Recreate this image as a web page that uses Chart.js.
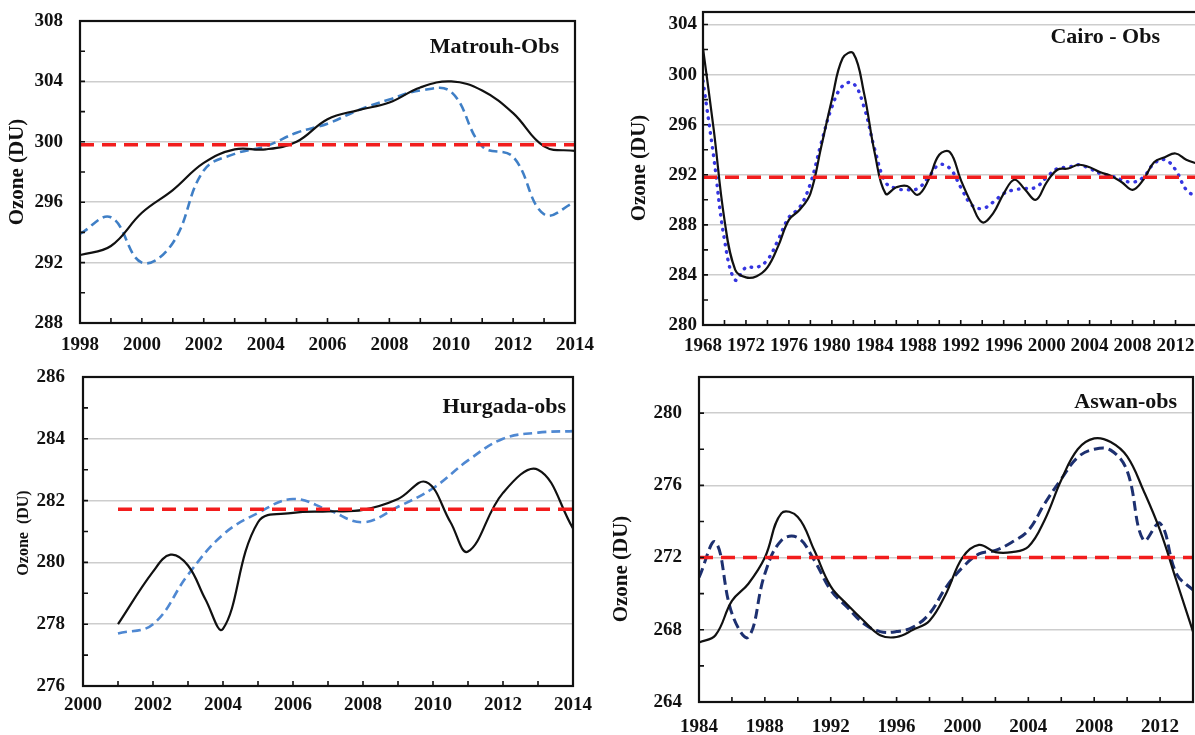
<!DOCTYPE html>
<html>
<head>
<meta charset="utf-8">
<script src="https://cdn.jsdelivr.net/npm/chart.js@4.4.0/dist/chart.umd.min.js"></script>
<style>
  html, body { margin: 0; padding: 0; background: #fff; overflow: hidden; width: 1195px; height: 735px; }
  canvas { position: absolute; }
</style>
</head>
<body>
<canvas id="matrouh" width="600" height="360" style="left:0;top:0"></canvas>
<canvas id="cairo" width="610" height="360" style="left:600px;top:0"></canvas>
<canvas id="hurgada" width="600" height="375" style="left:0;top:360px"></canvas>
<canvas id="aswan" width="595" height="375" style="left:600px;top:360px"></canvas>
<script>
// Matrouh 1998-2014
const matrouhYears = [1998, 1999, 2000, 2001, 2002, 2003, 2004, 2005, 2006, 2007, 2008, 2009, 2010, 2011, 2012, 2013, 2014];
const matrouhSolid = [292.5, 293.1, 295.3, 296.8, 298.6, 299.5, 299.5, 300.0, 301.5, 302.1, 302.6, 303.6, 304.0, 303.4, 301.9, 299.7, 299.4];
const matrouhDashed = [293.9, 295.0, 292.0, 293.3, 298.1, 299.2, 299.7, 300.6, 301.2, 302.1, 302.8, 303.4, 303.3, 299.7, 299.0, 295.2, 296.0];
const matrouhMean = 299.8;

// Cairo 1968-2014
const cairoYears = [1968, 1969, 1970, 1971, 1972, 1973, 1974, 1975, 1976, 1977, 1978, 1979, 1980, 1981, 1982, 1983,
  1984, 1985, 1986, 1987, 1988, 1989, 1990, 1991, 1992, 1993, 1994, 1995, 1996, 1997, 1998, 1999,
  2000, 2001, 2002, 2003, 2004, 2005, 2006, 2007, 2008, 2009, 2010, 2011, 2012, 2013, 2014];
const cairoSolid = [302.1, 295.6, 288.4, 284.4, 283.8, 283.9, 284.6, 286.3, 288.4, 289.2, 290.5, 294.2, 298.0, 301.3, 301.7, 298.5,
  293.7, 290.5, 291.0, 291.1, 290.4, 291.6, 293.6, 293.8, 291.6, 289.7, 288.2, 288.9, 290.5, 291.6, 290.8, 290.0,
  291.4, 292.4, 292.5, 292.8, 292.6, 292.2, 291.9, 291.4, 290.8, 291.6, 293.0, 293.4, 293.7, 293.2, 292.9];
const cairoDotted = [299.5, 293.4, 286.8, 283.6, 284.6, 284.6, 285.2, 286.8, 288.6, 289.4, 291.3, 294.5, 297.4, 299.1, 299.3, 297.4,
  294.0, 291.4, 290.9, 290.8, 290.9, 291.8, 292.8, 292.5, 291.0, 289.6, 289.3, 289.8, 290.5, 290.8, 290.9, 291.0,
  291.8, 292.5, 292.6, 292.8, 292.5, 292.1, 291.9, 291.6, 291.4, 291.8, 292.9, 293.2, 292.4, 290.8, 290.2];
const cairoMean = 291.8;

// Hurgada 2001-2014
const hurgadaSolidYears = [2001, 2002, 2002.5, 2003, 2003.5, 2004, 2005, 2006, 2007, 2008, 2009, 2009.8, 2010.5, 2011, 2012, 2013, 2014];
const hurgadaSolid = [278.0, 279.7, 280.25, 279.9, 278.8, 277.85, 281.3, 281.6, 281.65, 281.7, 282.05, 282.6, 281.3, 280.35, 282.25, 283.0, 281.1];
const hurgadaDashedYears = [2001, 2002, 2003, 2004, 2005, 2006, 2007, 2008, 2009, 2010, 2011, 2012, 2013, 2014];
const hurgadaDashed = [277.7, 278.0, 279.6, 280.9, 281.6, 282.05, 281.7, 281.3, 281.8, 282.4, 283.3, 284.0, 284.2, 284.25];
const hurgadaMean = 281.72;

// Aswan 1984-2014
const aswanYears = [1984, 1985, 1986, 1987, 1988, 1989, 1990, 1991, 1992, 1993, 1994, 1995, 1996, 1997, 1998, 1999,
  2000, 2001, 2002, 2003, 2004, 2005, 2006, 2007, 2008, 2009, 2010, 2011, 2012, 2013, 2014];
const aswanSolid = [267.3, 267.7, 269.6, 270.55, 272.0, 274.45, 274.25, 272.4, 270.4, 269.4, 268.5, 267.7, 267.6, 268.0, 268.5, 270.0,
  272.0, 272.7, 272.3, 272.3, 272.6, 274.1, 276.3, 278.0, 278.6, 278.4, 277.6, 275.7, 273.5, 270.7, 267.9];
const aswanDashed = [270.9, 272.85, 268.9, 267.6, 271.1, 272.95, 273.1, 271.85, 270.2, 269.25, 268.35, 267.9, 267.9, 268.15, 268.9, 270.35,
  271.45, 272.2, 272.4, 272.85, 273.5, 275.0, 276.35, 277.55, 278.0, 277.95, 276.8, 272.95, 273.9, 271.1, 270.2];
const aswanMean = 272.0;

const SERIF = '"Liberation Serif", "Times New Roman", serif';

function points(xs, ys) {
    return xs.map((x, i) => ({ x: x, y: ys[i] }));
}

function range(a, b, step) {
    const out = [];
    for (let v = a; v <= b + 1e-9; v += step) out.push(Math.round(v * 100) / 100);
    return out;
}

// box round the plot, inward tick marks, station name and y title
const frame = {
    id: 'frame',
    afterDatasetsDraw(chart, args, opts) {
        const { ctx, chartArea: a } = chart;
        const x = chart.scales.x, y = chart.scales.y;
        ctx.save();
        ctx.strokeStyle = '#111';
        ctx.lineWidth = 1.6;
        ctx.beginPath();
        x.ticks.forEach(t => {
            if (t.value <= x.min || t.value >= x.max) return;
            const px = x.getPixelForValue(t.value);
            ctx.moveTo(px, a.bottom);
            ctx.lineTo(px, a.bottom - 5);
        });
        y.ticks.forEach(t => {
            if (t.value <= y.min || t.value >= y.max) return;
            const py = y.getPixelForValue(t.value);
            ctx.moveTo(a.left, py);
            ctx.lineTo(a.left + 5, py);
        });
        ctx.stroke();
        ctx.lineWidth = 2.2;
        ctx.strokeRect(a.left, a.top, a.right - a.left, a.bottom - a.top);

        ctx.fillStyle = '#111';
        ctx.font = 'bold 22px ' + SERIF;
        ctx.textAlign = 'right';
        ctx.textBaseline = 'middle';
        ctx.fillText(opts.label, a.right - opts.labelRight, a.top + opts.labelTop);

        ctx.translate(opts.titleX, opts.titleY);
        ctx.rotate(-Math.PI / 2);
        ctx.font = 'bold ' + opts.titleSize + 'px ' + SERIF;
        ctx.textAlign = 'center';
        ctx.fillText(opts.title, 0, 0);
        ctx.restore();
    }
};

function makePanel(id, cfg) {
    const tickFont = { family: SERIF, size: 19, weight: 'bold' };
    new Chart(document.getElementById(id), {
        type: 'line',
        data: {
            datasets: [{
                data: [{ x: cfg.meanFrom, y: cfg.mean }, { x: cfg.xMax, y: cfg.mean }],
                borderColor: '#f21d1d',
                borderWidth: 3.6,
                borderDash: [14, 8],
                tension: 0
            }, {
                data: cfg.solid,
                borderColor: '#111',
                borderWidth: 2.2
            }, Object.assign({ data: cfg.second }, cfg.secondStyle)]
        },
        options: {
            responsive: false,
            animation: false,
            layout: { padding: cfg.padding },
            elements: {
                point: { radius: 0 },
                line: { tension: 0.4, fill: false }
            },
            plugins: {
                legend: { display: false },
                tooltip: { enabled: false },
                frame: cfg.frame
            },
            scales: {
                x: {
                    type: 'linear',
                    min: cfg.xMin,
                    max: cfg.xMax,
                    afterBuildTicks: s => { s.ticks = range(cfg.xMin, cfg.xMax, cfg.xStep).map(v => ({ value: v })); },
                    afterFit: s => { s.height = cfg.xHeight; s.paddingLeft = 0; s.paddingRight = 0; },
                    grid: { display: false },
                    border: { display: false },
                    ticks: {
                        autoSkip: false,
                        maxRotation: 0,
                        padding: cfg.xPad,
                        color: '#111',
                        font: tickFont,
                        callback: v => ((v - cfg.xMin) % cfg.xLabelStep === 0 ? String(v) : '')
                    }
                },
                y: {
                    min: cfg.yMin,
                    max: cfg.yMax,
                    afterBuildTicks: s => { s.ticks = range(cfg.yMin, cfg.yMax, cfg.yStep).map(v => ({ value: v })); },
                    afterFit: s => { s.width = cfg.yWidth; s.paddingTop = 0; s.paddingBottom = 0; },
                    grid: {
                        drawTicks: false,
                        lineWidth: 1.5,
                        color: c => (cfg.yGrid.includes(c.tick.value) ? '#cdcdcd' : 'rgba(0,0,0,0)')
                    },
                    border: { display: false },
                    ticks: {
                        padding: cfg.yPad,
                        color: '#111',
                        font: tickFont,
                        callback: v => ((v - cfg.yLabelFrom) % cfg.yLabelStep === 0 ? String(v) : '')
                    }
                }
            }
        },
        plugins: [frame]
    });
}

makePanel('matrouh', {
    solid: points(matrouhYears, matrouhSolid),
    second: points(matrouhYears, matrouhDashed),
    secondStyle: { borderColor: '#3f7fc6', borderWidth: 2.6, borderDash: [9, 5] },
    mean: matrouhMean, meanFrom: 1998,
    xMin: 1998, xMax: 2014, xStep: 1, xLabelStep: 2, xHeight: 37, xPad: 3,
    yMin: 288, yMax: 308, yStep: 2, yLabelFrom: 288, yLabelStep: 4, yGrid: [292, 296, 300, 304], yWidth: 80, yPad: 17,
    padding: { top: 21, right: 25, bottom: 0, left: 0 },
    frame: { label: 'Matrouh-Obs', labelRight: 16, labelTop: 26, title: 'Ozone (DU)', titleSize: 21, titleX: 18, titleY: 172 }
});

makePanel('cairo', {
    solid: points(cairoYears, cairoSolid),
    second: points(cairoYears, cairoDotted),
    secondStyle: { borderColor: '#3535e0', borderWidth: 3.4, borderDash: [0.5, 7], borderCapStyle: 'round' },
    mean: cairoMean, meanFrom: 1968,
    xMin: 1968, xMax: 2014, xStep: 2, xLabelStep: 4, xHeight: 35, xPad: 2,
    yMin: 280, yMax: 305, yStep: 2, yLabelFrom: 280, yLabelStep: 4, yGrid: [284, 288, 292, 296, 300, 304], yWidth: 103, yPad: 6,
    padding: { top: 12, right: 13, bottom: 0, left: 0 },
    frame: { label: 'Cairo - Obs', labelRight: 37, labelTop: 25, title: 'Ozone (DU)', titleSize: 21, titleX: 40, titleY: 168 }
});

makePanel('hurgada', {
    solid: points(hurgadaSolidYears, hurgadaSolid),
    second: points(hurgadaDashedYears, hurgadaDashed),
    secondStyle: { borderColor: '#4f88d2', borderWidth: 2.6, borderDash: [9, 5] },
    mean: hurgadaMean, meanFrom: 2001,
    xMin: 2000, xMax: 2014, xStep: 1, xLabelStep: 2, xHeight: 49, xPad: 0,
    yMin: 276, yMax: 286, yStep: 1, yLabelFrom: 276, yLabelStep: 2, yGrid: [278, 280, 282, 284], yWidth: 83, yPad: 18,
    padding: { top: 17, right: 27, bottom: 0, left: 0 },
    frame: { label: 'Hurgada-obs', labelRight: 7, labelTop: 30, title: 'Ozone  (DU)', titleSize: 16, titleX: 24, titleY: 173 }
});

makePanel('aswan', {
    solid: points(aswanYears, aswanSolid),
    second: points(aswanYears, aswanDashed),
    secondStyle: { borderColor: '#1d3070', borderWidth: 3, borderDash: [10, 5] },
    mean: aswanMean, meanFrom: 1984,
    xMin: 1984, xMax: 2014, xStep: 2, xLabelStep: 4, xHeight: 33, xPad: 6,
    yMin: 264, yMax: 282, yStep: 2, yLabelFrom: 264, yLabelStep: 4, yGrid: [268, 272, 276, 280], yWidth: 99, yPad: 17,
    padding: { top: 17, right: 2, bottom: 0, left: 0 },
    frame: { label: 'Aswan-obs', labelRight: 16, labelTop: 25, title: 'Ozone (DU)', titleSize: 21, titleX: 22, titleY: 209 }
});
</script>
</body>
</html>
